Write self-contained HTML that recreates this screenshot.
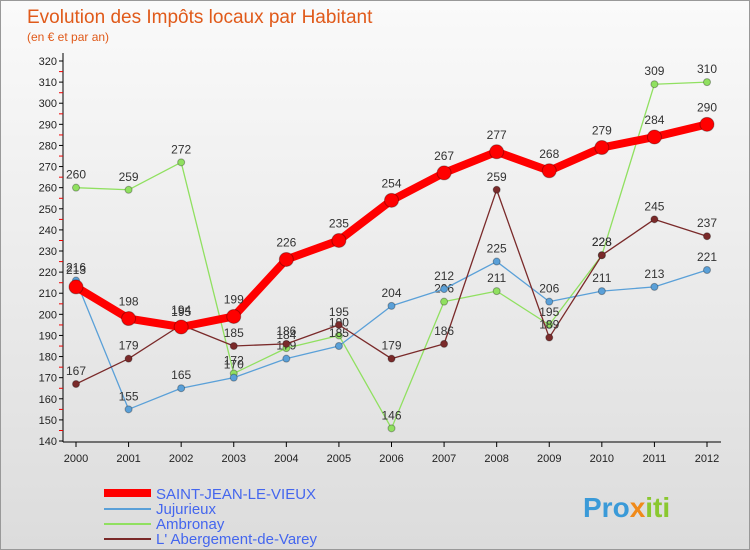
<!DOCTYPE html>
<html><head><meta charset="utf-8"><style>
body{margin:0;background:#fff;font-family:"Liberation Sans",sans-serif}
#wrap{position:relative;width:748px;height:548px;border:1px solid #999;background:linear-gradient(#fafafa,#dcdcdc);overflow:hidden}
</style></head><body>
<div id="wrap">
<svg id="chart" width="748" height="548">
<text x="26" y="22" font-size="19" fill="#e05a1a">Evolution des Impôts locaux par Habitant</text>
<text x="26" y="40" font-size="12" fill="#e05a1a">(en € et par an)</text>
<g id="axes"></g><g id="series"></g>
<g>
<line x1="103" y1="492" x2="150" y2="492" stroke="#ff0000" stroke-width="8"/>
<text x="155" y="498" font-size="15" fill="#4466ee">SAINT-JEAN-LE-VIEUX</text>
<line x1="103" y1="508" x2="150" y2="508" stroke="#5aa0d8" stroke-width="2"/>
<text x="155" y="513" font-size="15" fill="#4466ee">Jujurieux</text>
<line x1="103" y1="523" x2="150" y2="523" stroke="#90e060" stroke-width="2"/>
<text x="155" y="528" font-size="15" fill="#4466ee">Ambronay</text>
<line x1="103" y1="538" x2="150" y2="538" stroke="#7a2a2a" stroke-width="2"/>
<text x="155" y="543" font-size="15" fill="#4466ee">L' Abergement-de-Varey</text>
</g>
<text x="582" y="516" font-size="28" font-weight="bold" fill="#3a9ad8">Pro<tspan fill="#f08a1a">x</tspan><tspan fill="#8ac830">iti</tspan></text>
</svg>
</div>
<script>
const years=[2000,2001,2002,2003,2004,2005,2006,2007,2008,2009,2010,2011,2012];
const yTicks=[140,150,160,170,180,190,200,210,220,230,240,250,260,270,280,290,300,310,320];
const saintJean=[213,198,194,199,226,235,254,267,277,268,279,284,290];
const jujurieux=[216,155,165,170,179,185,204,212,225,206,211,213,221];
const ambronay=[260,259,272,172,184,190,146,206,211,195,228,309,310];
const abergement=[167,179,195,185,186,195,179,186,259,189,228,245,237];
const NS="http://www.w3.org/2000/svg";
function xs(i){return 75+i*(706-75)/(years.length-1);}
function ys(v){return 440-(v-140)*(380/180);}
function mk(tag,attrs,parent){const e=document.createElementNS(NS,tag);for(const k in attrs)e.setAttribute(k,attrs[k]);parent.appendChild(e);return e;}
const axes=document.getElementById('axes');
let a=mk('line',{x1:62,y1:52,x2:62,y2:441,stroke:'#000'},axes);


a=mk('line',{x1:62,y1:441,x2:720,y2:441,stroke:'#000'},axes);


yTicks.forEach(v=>{
 const y=ys(v);
 mk('line',{x1:58,y1:y,x2:62,y2:y,stroke:'#000'},axes);
 if(v<320)mk('line',{x1:58,y1:y-10.5,x2:62,y2:y-10.5,stroke:'#e00'},axes);
 const t=mk('text',{x:56,y:y+4,'font-size':11,'text-anchor':'end',fill:'#222'},axes);
 t.textContent=v;
 
 
});
years.forEach((yr,i)=>{
 mk('line',{x1:xs(i),y1:441,x2:xs(i),y2:446,stroke:'#000'},axes);
 const t=mk('text',{x:xs(i),y:461,'font-size':11,'text-anchor':'middle',fill:'#222'},axes);
 t.textContent=yr;
 
 
});
const ser=document.getElementById('series');
function draw(vals,color,w,r,name){
 const g=mk('g',{},ser);
 
 
 const pts=vals.map((v,i)=>xs(i)+','+ys(v)).join(' ');
 const l=mk('polyline',{points:pts,fill:'none',stroke:color,'stroke-width':w,'stroke-linejoin':'round'},g);
 
 
 vals.forEach((v,i)=>{
  const c=mk('circle',{cx:xs(i),cy:ys(v),r:r,fill:color,stroke:'rgba(0,0,0,0.3)'},g);
  
  
  const t=mk('text',{x:xs(i),y:ys(v)-9-(r>5?4:0),'font-size':12,'text-anchor':'middle',fill:'#333'},g);
  t.textContent=v;
  
  
 });
}
draw(ambronay,'#90e060',1.3,3.5,'ambronay');
draw(jujurieux,'#5aa0d8',1.3,3.5,'jujurieux');
draw(abergement,'#7a2a2a',1.3,3.5,'abergement');
draw(saintJean,'#ff0000',8,7,'saint-jean');
</script>
</body></html>
